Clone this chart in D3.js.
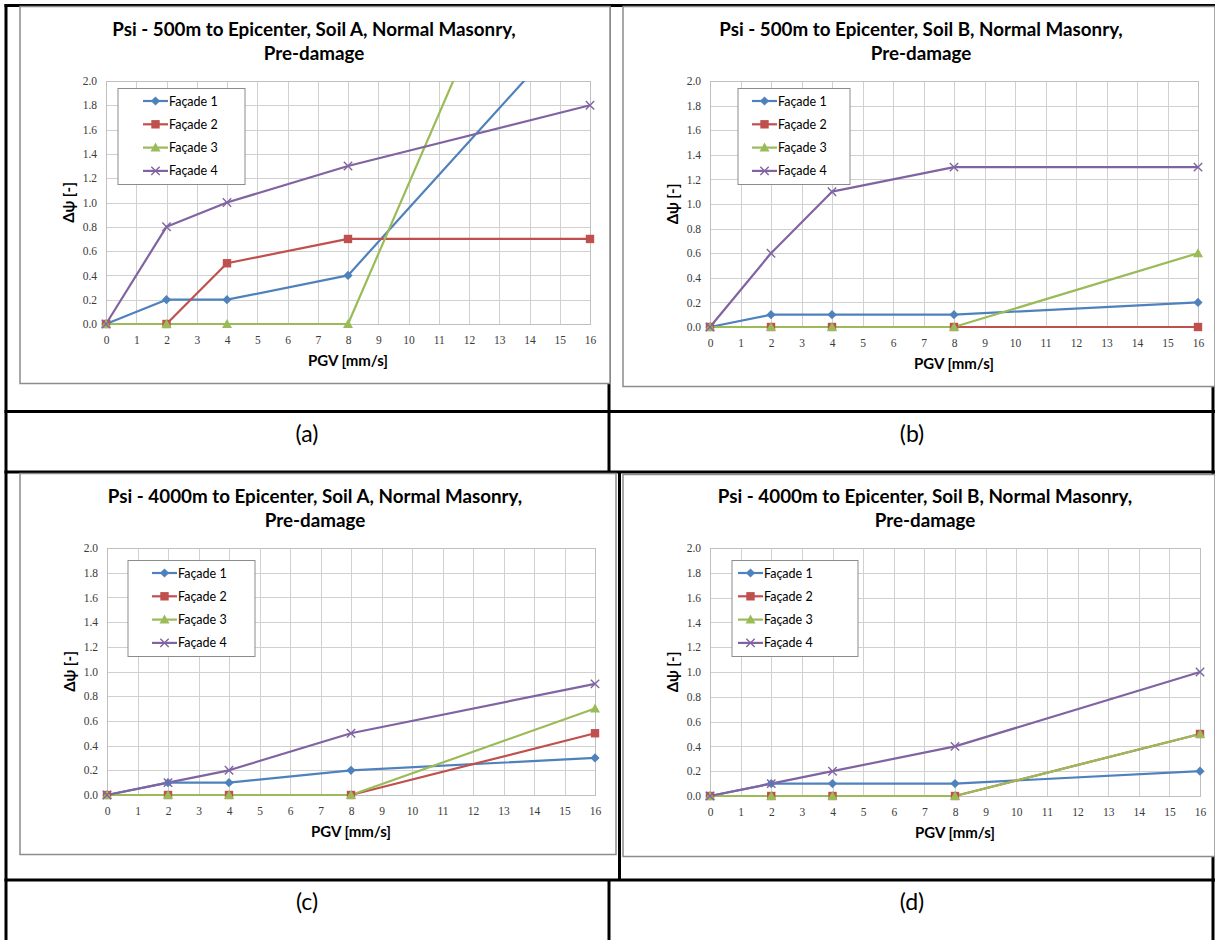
<!DOCTYPE html>
<html>
<head>
<meta charset="utf-8">
<script src="https://cdn.jsdelivr.net/npm/d3@7"></script>
<style>
  html, body { margin: 0; padding: 0; background: #fff; }
  svg { display: block; }
</style>
</head>
<body>
<svg id="page" width="1215" height="940"></svg>
<script>
// ---------- DATA ----------
const pgv = [0, 2, 4, 8, 16];
const xTickValues = [0,1,2,3,4,5,6,7,8,9,10,11,12,13,14,15,16];
const yTickValues = [0.0,0.2,0.4,0.6,0.8,1.0,1.2,1.4,1.6,1.8,2.0];
const seriesNames = ["Façade 1", "Façade 2", "Façade 3", "Façade 4"];
const seriesColors = ["#4F81BD", "#C0504D", "#9BBB59", "#8064A2"];
const seriesMarkers = ["diamond", "square", "triangle", "cross"];
const panelLabels = ["(a)", "(b)", "(c)", "(d)"];

const titleA = ["Psi - 500m to Epicenter, Soil A, Normal Masonry,", "Pre-damage"];
const titleB = ["Psi - 500m to Epicenter, Soil B, Normal Masonry,", "Pre-damage"];
const titleC = ["Psi - 4000m to Epicenter, Soil A, Normal Masonry,", "Pre-damage"];
const titleD = ["Psi - 4000m to Epicenter, Soil B, Normal Masonry,", "Pre-damage"];

// Panel (a): 500 m, Soil A
const a_facade1 = [0, 0.2, 0.2, 0.4, 2.6];
const a_facade2 = [0, 0, 0.5, 0.7, 0.7];
const a_facade3 = [0, 0, 0, 0, 4.6];
const a_facade4 = [0, 0.8, 1.0, 1.3, 1.8];
// Panel (b): 500 m, Soil B
const b_facade1 = [0, 0.1, 0.1, 0.1, 0.2];
const b_facade2 = [0, 0, 0, 0, 0];
const b_facade3 = [0, 0, 0, 0, 0.6];
const b_facade4 = [0, 0.6, 1.1, 1.3, 1.3];
// Panel (c): 4000 m, Soil A
const c_facade1 = [0, 0.1, 0.1, 0.2, 0.3];
const c_facade2 = [0, 0, 0, 0, 0.5];
const c_facade3 = [0, 0, 0, 0, 0.7];
const c_facade4 = [0, 0.1, 0.2, 0.5, 0.9];
// Panel (d): 4000 m, Soil B
const d_facade1 = [0, 0.1, 0.1, 0.1, 0.2];
const d_facade2 = [0, 0, 0, 0, 0.5];
const d_facade3 = [0, 0, 0, 0, 0.5];
const d_facade4 = [0, 0.1, 0.2, 0.4, 1.0];

// ---------- LAYOUT ----------
const svg = d3.select("#page");
const TABLE = "#000";

// table grid (drawn first, charts sit on top)
const tbl = svg.append("g");
const tline = (x1, y1, x2, y2) => tbl.append("line")
  .attr("x1", x1).attr("y1", y1).attr("x2", x2).attr("y2", y2)
  .attr("stroke", TABLE).attr("stroke-width", 3);
tline(4.5, 5.5, 1215, 5.5);
tline(6, 4, 6, 940);
tline(1213, 4, 1213, 940);
tline(4.5, 411.5, 1215, 411.5);
tline(4.5, 472, 1215, 472);
tline(4.5, 880, 1215, 880);
tline(609, 4, 609, 472);
tline(619.5, 472, 619.5, 880);
tline(609, 880, 609, 940);

const panels = [
  { title: titleA, series: [a_facade1, a_facade2, a_facade3, a_facade4],
    frame: [20, 6.5, 590, 377], plot: [106, 590, 81, 324], titleX: 314, titleY: 36,
    legend: [118, 88.5, 127, 96], legendLine: 25, label: [307, 442] },
  { title: titleB, series: [b_facade1, b_facade2, b_facade3, b_facade4],
    frame: [623, 6.5, 592, 380], plot: [710, 1198, 81, 327], titleX: 921, titleY: 36,
    legend: [738, 88.5, 112, 96], legendLine: 14, label: [912, 442] },
  { title: titleC, series: [c_facade1, c_facade2, c_facade3, c_facade4],
    frame: [20, 473.5, 596, 381], plot: [107, 595, 548, 795], titleX: 315, titleY: 503,
    legend: [128, 560.5, 127, 96], legendLine: 24, label: [307, 910] },
  { title: titleD, series: [d_facade1, d_facade2, d_facade3, d_facade4],
    frame: [623, 474.5, 592, 382], plot: [710, 1200, 548, 796], titleX: 925, titleY: 503,
    legend: [732, 560.5, 126, 96], legendLine: 6, label: [912, 910] }
];

const SANS = "Lato, 'Open Sans', 'DejaVu Sans', sans-serif";
const SERIF = "'Liberation Serif', 'DejaVu Serif', serif";

function markerPath(type, cx, cy) {
  const p = d3.path();
  if (type === "diamond") {
    const r = 4.6;
    p.moveTo(cx, cy - r); p.lineTo(cx + r, cy); p.lineTo(cx, cy + r); p.lineTo(cx - r, cy); p.closePath();
  } else if (type === "square") {
    const r = 4.2;
    p.rect(cx - r, cy - r, 2 * r, 2 * r);
  } else if (type === "triangle") {
    const r = 5;
    p.moveTo(cx, cy - r); p.lineTo(cx + r, cy + r * 0.8); p.lineTo(cx - r, cy + r * 0.8); p.closePath();
  } else {
    const r = 4.2;
    p.moveTo(cx - r, cy - r); p.lineTo(cx + r, cy + r);
    p.moveTo(cx + r, cy - r); p.lineTo(cx - r, cy + r);
  }
  return p.toString();
}
function drawMarker(g, type, color, cx, cy) {
  const path = g.append("path").attr("d", markerPath(type, cx, cy));
  if (type === "cross") {
    path.attr("fill", "none").attr("stroke", color).attr("stroke-width", 1.4);
  } else {
    path.attr("fill", color).attr("stroke", "none");
  }
}

panels.forEach((P, pi) => {
  const g = svg.append("g");
  const [fx, fy, fw, fh] = P.frame;
  g.append("rect").attr("x", fx).attr("y", fy).attr("width", fw).attr("height", fh)
    .attr("fill", "#fff").attr("stroke", "#8c8c8c").attr("stroke-width", 1.5);

  // title
  P.title.forEach((t, i) => {
    g.append("text").attr("x", P.titleX).attr("y", P.titleY + i * 24)
      .attr("text-anchor", "middle").attr("font-family", SANS)
      .attr("font-weight", "bold").attr("font-size", 18.8).attr("fill", "#000").text(t);
  });

  const [x0, x1, yTop, yBot] = P.plot;
  const x = d3.scaleLinear().domain([0, 16]).range([x0, x1]);
  const y = d3.scaleLinear().domain([0, 2]).range([yBot, yTop]);

  // gridlines
  const grid = g.append("g");
  grid.selectAll("line.v").data(xTickValues).join("line")
    .attr("x1", d => Math.round(x(d)) + 0.5).attr("x2", d => Math.round(x(d)) + 0.5)
    .attr("y1", yTop).attr("y2", yBot)
    .attr("stroke", "#d0d0d0").attr("stroke-width", 1);
  grid.selectAll("line.h").data(yTickValues).join("line")
    .attr("x1", x0).attr("x2", x1)
    .attr("y1", d => Math.round(y(d)) + 0.5).attr("y2", d => Math.round(y(d)) + 0.5)
    .attr("stroke", "#d0d0d0").attr("stroke-width", 1);
  grid.append("rect").attr("x", x0 + 0.5).attr("y", yTop + 0.5)
    .attr("width", x1 - x0).attr("height", yBot - yTop)
    .attr("fill", "none").attr("stroke", "#bfbfbf");

  // axes (labels only, Excel style)
  const yAxis = d3.axisLeft(y).tickValues(yTickValues).tickFormat(d3.format(".1f")).tickSize(0).tickPadding(9);
  const ya = g.append("g").attr("transform", `translate(${x0},0)`).call(yAxis);
  const xAxis = d3.axisBottom(x).tickValues(xTickValues).tickFormat(d3.format("d")).tickSize(0).tickPadding(12);
  const xa = g.append("g").attr("transform", `translate(0,${yBot})`).call(xAxis);
  [ya, xa].forEach(a => {
    a.select(".domain").remove();
    a.selectAll("text").attr("font-family", SERIF).attr("font-size", 11.5).attr("fill", "#3a3a3a");
  });

  // axis titles
  g.append("text").attr("x", (x0 + x1) / 2).attr("y", yBot + 42)
    .attr("text-anchor", "middle").attr("font-family", SANS).attr("font-weight", "bold")
    .attr("font-size", 15).attr("fill", "#000").text("PGV [mm/s]");
  g.append("text")
    .attr("transform", `translate(${x0 - 32},${(yTop + yBot) / 2}) rotate(-90)`)
    .attr("text-anchor", "middle").attr("font-family", SANS).attr("font-weight", "bold")
    .attr("font-size", 15).attr("fill", "#000").text("Δψ [-]");

  // clip to plot area
  const clipId = "clip" + pi;
  g.append("clipPath").attr("id", clipId).append("rect")
    .attr("x", x0 - 8).attr("y", yTop).attr("width", x1 - x0 + 16).attr("height", yBot - yTop + 10);
  const dataG = g.append("g").attr("clip-path", `url(#${clipId})`);

  const line = d3.line().x((d, i) => x(pgv[i])).y(d => y(d));
  P.series.forEach((vals, si) => {
    dataG.append("path").datum(vals).attr("d", line)
      .attr("fill", "none").attr("stroke", seriesColors[si]).attr("stroke-width", 2.2)
      .attr("stroke-linejoin", "round");
  });
  P.series.forEach((vals, si) => {
    vals.forEach((v, i) => {
      if (v <= 2) drawMarker(dataG, seriesMarkers[si], seriesColors[si], x(pgv[i]), y(v));
    });
  });

  // legend
  const [lx, ly, lw, lh] = P.legend;
  const lg = g.append("g");
  lg.append("rect").attr("x", lx).attr("y", ly).attr("width", lw).attr("height", lh)
    .attr("fill", "#fff").attr("stroke", "#8c8c8c").attr("stroke-width", 1);
  seriesNames.forEach((name, si) => {
    const cy = ly + 12.5 + si * 23.3;
    const sx = lx + P.legendLine;
    lg.append("line").attr("x1", sx).attr("x2", sx + 25).attr("y1", cy).attr("y2", cy)
      .attr("stroke", seriesColors[si]).attr("stroke-width", 2.2);
    drawMarker(lg, seriesMarkers[si], seriesColors[si], sx + 12.5, cy);
    lg.append("text").attr("x", sx + 26).attr("y", cy + 4.5)
      .attr("font-family", SANS).attr("font-size", 12.5).attr("fill", "#000").text(name);
  });

  // panel label
  svg.append("text").attr("x", P.label[0]).attr("y", P.label[1])
    .attr("text-anchor", "middle").attr("font-family", SANS).attr("font-size", 23)
    .attr("fill", "#000").text(panelLabels[pi]);
});
</script>
</body>
</html>
